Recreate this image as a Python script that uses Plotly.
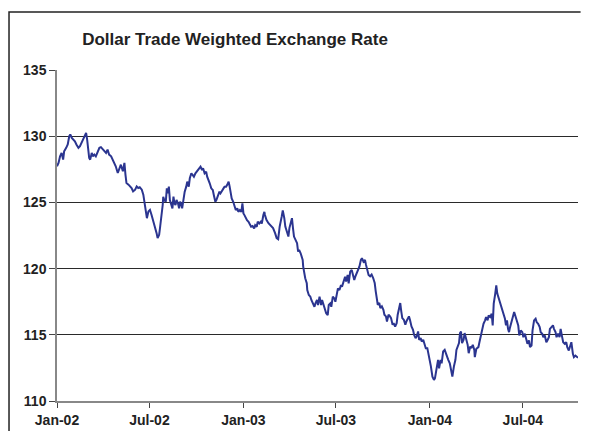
import pandas as pd
import plotly.graph_objects as go

start = pd.Timestamp("2002-01-01")

# days since 1 Jan 2002 and index level
days_2002 = [0, 3, 6, 9, 12, 14, 18, 21, 24, 26, 29, 32, 35, 38, 42, 45, 48, 52, 55, 57,
             59, 61, 63, 65, 68, 70, 73, 76, 80, 83, 86, 89, 93, 96, 99, 102, 106, 109, 112, 115,
             119, 122, 125, 129, 132, 134, 136, 140, 143, 146, 149, 153, 156, 159, 162, 166, 169, 171, 174, 176,
             179, 182, 185, 189, 192, 195, 197, 200, 202, 205, 207, 208, 210, 213, 215, 217, 219, 221, 224, 226,
             228, 230, 232, 234, 237, 239, 241, 243, 245, 247, 250, 253, 255, 258, 260, 263, 266, 268, 271, 273,
             276, 279, 281, 284, 286, 289, 292, 294, 297, 299, 302, 305, 307, 310, 312, 315, 318, 320, 323, 326,
             328, 331, 333, 336, 338, 340, 342, 345, 348, 350, 353, 355, 358, 361, 363]
rate_2002 = [127.73, 127.98, 128.48, 128.74, 128.23, 128.86, 129.12, 129.37, 130.00, 130.13,
             129.87, 129.75, 129.62, 129.37, 129.12, 129.24, 129.49, 129.75, 130.13, 130.25,
             129.75, 129.24, 128.36, 128.23, 128.74, 128.48, 128.61, 128.48, 128.86, 129.12,
             129.17, 129.04, 128.86, 128.74, 128.99, 128.61, 128.48, 128.23, 127.85, 127.73,
             127.22, 127.47, 127.85, 127.35, 127.98, 127.10, 126.46, 126.34, 126.21, 126.09,
             125.83, 125.96, 126.21, 126.09, 126.14, 125.96, 125.58, 125.08, 124.57, 123.81,
             124.32, 124.44, 124.07, 123.56, 123.06, 122.68, 122.30, 122.55, 123.18, 124.07,
             124.82, 125.43, 125.18, 125.05, 126.06, 125.68, 126.19, 125.18, 124.80, 124.55,
             125.43, 124.92, 124.80, 125.18, 124.92, 124.55, 125.05, 124.92, 124.55, 125.18,
             125.81, 126.19, 126.57, 126.19, 126.82, 127.20, 127.07, 126.94, 127.20, 127.32,
             127.45, 127.58, 127.70, 127.45, 127.58, 127.20, 127.32, 126.94, 126.69, 126.44,
             126.06, 125.93, 125.56, 125.05, 125.18, 125.56, 125.81, 125.68, 125.93, 126.06,
             126.19, 126.19, 126.31, 126.57, 126.19, 125.81, 125.30, 125.05, 124.67, 124.42,
             124.55, 124.29, 124.42, 124.29, 124.92]

days_2003 = [365, 367, 370, 372, 375, 378, 380, 383, 386, 388, 391, 393, 396, 399, 401, 404, 406, 407, 410, 414,
             417, 420, 423, 427, 430, 433, 436, 440, 442, 445, 447, 450, 453, 455, 458, 460, 462, 464, 467, 470,
             472, 474, 477, 479, 481, 482, 484, 486, 489, 490, 493, 496, 498, 501, 504, 506, 509, 511, 514, 517,
             519, 522, 524, 527, 530, 532, 535, 537, 540, 543, 545, 548, 550, 553, 556, 558, 561, 564, 566, 569,
             571, 574, 577, 579, 582, 584, 587, 590, 592, 595, 597, 600, 603, 605, 608, 610, 613, 616, 619, 622,
             624, 626, 628, 631, 633, 636, 639, 641, 644, 646, 649, 652, 654, 657, 659, 662, 665, 667, 670, 672,
             674, 676, 679, 682, 684, 687, 689, 691, 694, 697, 699, 702, 704, 707, 709, 712, 714, 717, 719, 722,
             725, 727]
rate_2003 = [124.17, 124.04, 123.79, 123.66, 123.54, 123.28, 123.16, 123.21, 123.03, 123.28,
             123.16, 123.54, 123.41, 123.54, 123.41, 124.04, 124.29, 124.07, 123.69, 123.43,
             123.31, 123.18, 123.06, 122.68, 122.30, 122.22, 123.18, 123.94, 124.39, 123.81,
             123.18, 122.80, 122.42, 123.06, 123.56, 123.81, 123.06, 122.42, 122.17, 121.92,
             121.29, 121.41, 121.16, 120.91, 120.66, 120.15, 119.52, 119.27, 118.89, 118.38,
             118.01, 117.88, 117.63, 117.37, 117.12, 117.37, 117.63, 117.25, 117.88, 117.25,
             117.63, 117.25, 116.99, 116.62, 116.49, 117.25, 117.37, 117.12, 117.88, 117.75,
             117.50, 118.13, 118.51, 118.38, 118.76, 118.64, 119.14, 119.39, 119.02, 119.52,
             118.89, 119.77, 119.90, 119.52, 119.14, 119.39, 119.65, 119.90, 120.15, 120.66,
             120.78, 120.53, 120.66, 120.28, 119.90, 119.52, 119.42, 119.55, 119.29, 118.91,
             118.28, 117.65, 117.27, 117.40, 117.02, 117.15, 116.89, 116.52, 116.39, 116.01,
             116.52, 116.39, 116.26, 115.76, 115.88, 115.63, 115.88, 116.52, 117.02, 117.40,
             116.77, 116.26, 116.14, 115.76, 116.01, 116.26, 116.39, 116.14, 115.63, 115.38,
             115.00, 114.75, 114.87, 115.25, 114.62, 114.75, 114.49, 114.62, 114.37, 113.99,
             113.99, 113.61]

days_2004 = [730, 732, 735, 738, 740, 743, 746, 748, 751, 753, 756, 759, 761, 764, 766, 769, 772, 774, 777, 780,
             782, 785, 787, 789, 791, 793, 796, 798, 801, 804, 806, 809, 811, 814, 817, 818, 821, 825, 827, 830,
             832, 835, 838, 840, 843, 845, 848, 851, 853, 855, 858, 860, 862, 865, 867, 869, 872, 874, 877, 879,
             881, 883, 885, 887, 890, 892, 895, 898, 900, 903, 905, 908, 911, 913, 916, 918, 921, 924, 926, 929,
             931, 934, 937, 939, 942, 945, 947, 950, 952, 955, 958, 960, 963, 965, 968, 971, 973, 976, 978, 981,
             984, 986, 989, 991, 994, 997, 999, 1002, 1005, 1007, 1010, 1012, 1015, 1018, 1020]
rate_2004 = [113.11, 112.62, 111.84, 111.59, 111.72, 112.60, 113.11, 112.47, 113.11, 112.85,
             113.74, 113.86, 113.61, 113.36, 113.11, 112.85, 112.35, 111.84, 112.60, 113.11,
             113.86, 114.12, 114.37, 115.13, 115.25, 114.37, 114.62, 115.13, 114.75, 114.24,
             113.61, 114.12, 113.99, 114.24, 113.86, 113.31, 113.94, 114.07, 114.44, 115.08,
             115.45, 115.83, 116.09, 116.34, 116.09, 116.46, 116.34, 116.59, 115.71, 117.35,
             118.11, 118.74, 118.11, 117.73, 117.47, 117.22, 116.84, 116.72, 116.21, 115.71,
             116.09, 115.45, 115.20, 115.58, 116.09, 116.34, 116.72, 116.34, 116.09, 115.71,
             114.95, 115.33, 115.20, 114.82, 115.08, 114.70, 114.32, 114.57, 114.07, 114.19,
             115.33, 116.09, 116.21, 115.96, 115.83, 115.58, 115.20, 115.08, 114.82, 114.95,
             114.44, 114.57, 114.82, 115.45, 115.58, 115.71, 115.45, 115.20, 114.82, 115.08,
             114.82, 115.45, 114.82, 114.44, 114.32, 114.44, 114.07, 113.81, 114.19, 114.44,
             113.56, 113.31, 113.43, 113.31, 113.26]

tick_dates = ["2002-01-01", "2002-07-01", "2003-01-01", "2003-07-01", "2004-01-01", "2004-07-01"]
tick_labels = ["Jan-02", "Jul-02", "Jan-03", "Jul-03", "Jan-04", "Jul-04"]

days = days_2002 + days_2003 + days_2004
rate = rate_2002 + rate_2003 + rate_2004
dates = start + pd.to_timedelta(days, unit="D")
end = start + pd.Timedelta(days=1020)

fig = go.Figure()
fig.add_trace(go.Scatter(x=dates, y=rate, mode="lines",
                         line={'color': "#2b3590", 'width': 2},
                         showlegend=False))

tick_font = {'family': "Liberation Sans, Arial, sans-serif", 'size': 14,
             'color': "#222222", 'weight': "bold"}

# the page body adds an 8px margin on each side, so keep the figure inside the window
fig.update_layout(
    width=573,
    height=423,
    margin={'l': 49, 'r': 3, 't': 62, 'b': 30},
    paper_bgcolor="white",
    plot_bgcolor="white",
    title={
        'text': "Dollar Trade Weighted Exchange Rate",
        'font': {'family': "Liberation Sans, Arial, sans-serif", 'size': 17,
                 'color': "#222222", 'weight': "bold"},
        'x': 0.3417, 'xref': "paper", 'xanchor': "center",
        'y': 0.9255, 'yref': "container", 'yanchor': "middle",
    },
    xaxis={
        'range': [start, end],
        'tickvals': tick_dates,
        'ticktext': tick_labels,
        'ticks': "outside",
        'ticklen': 5,
        'tickcolor': "#444444",
        'ticklabelstandoff': 0,
        'showgrid': False,
        'showline': True,
        'linecolor': "#888888",
        'linewidth': 1.5,
        'tickfont': tick_font,
        'zeroline': False,
        'automargin': False,
    },
    yaxis={
        'range': [110, 135],
        'tickvals': [110, 115, 120, 125, 130, 135],
        'ticks': "outside",
        'ticklen': 6,
        'tickcolor': "#444444",
        'showgrid': True,
        'gridcolor': "#2a2a2a",
        'gridwidth': 1,
        'showline': True,
        'linecolor': "#888888",
        'linewidth': 1.5,
        'tickfont': tick_font,
        'zeroline': False,
        'automargin': False,
    },
    # outer chart frame: left and top edges only
    shapes=[{
        'type': "path", 'xref': "paper", 'yref': "paper",
        'path': "M -0.0921,-0.2 L -0.0921,1.175 L 1.005,1.175",
        'line': {'color': "#222222", 'width': 1.5},
    }],
)

fig.write_html("out.html")
